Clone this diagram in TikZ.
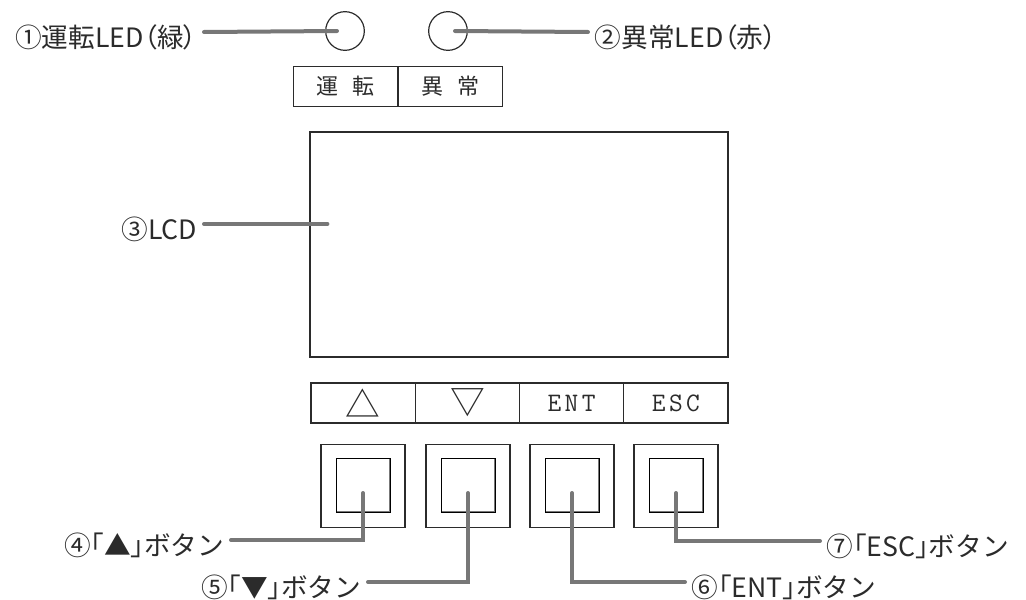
\documentclass[tikz,border=0pt]{standalone}
\usepackage{fontspec}
\newfontfamily\jpfont{Noto Sans CJK JP}
\newfontfamily\jppalt[RawFeature=+palt]{Noto Sans CJK JP}
\definecolor{leadgray}{HTML}{777777}
\definecolor{inkgray}{HTML}{2B2B2B}
\newcommand{\lbr}{{\jppalt 「}}
\newcommand{\rbr}{{\jppalt 」}}
\newcommand{\lpar}{{\jppalt （}}
\newcommand{\rpar}{{\jppalt ）}}
\newcommand{\keyspaced}[3]{#1\kern2.5pt#2\kern2.5pt#3}
\begin{document}
\begin{tikzpicture}[x=0.75pt,y=-0.75pt,
  leader/.style={draw=leadgray,line width=3pt,line cap=round},
  part/.style={draw=inkgray,line width=0.9pt},
  callout/.style={text=inkgray,font=\jpfont\fontsize{20}{24}\selectfont,inner xsep=5pt,inner ysep=2pt},
  ledlamp/.style={part,circle,minimum size=29pt,inner sep=0pt},
  tagcell/.style={part,minimum width=78.5pt,minimum height=30.5pt,inner sep=0pt,text=inkgray,font=\jpfont\fontsize{16.5}{18}\selectfont},
  keycell/.style={part,minimum width=78.2pt,minimum height=30pt,inner sep=0pt,text=inkgray,font=\ttfamily\fontsize{20}{22}\selectfont},
  btnframe/.style={part,minimum width=63pt,minimum height=62.25pt,inner sep=0pt},
  btnface/.style={draw=black,line width=1.2pt,minimum size=40.5pt,inner sep=0pt}]
\useasboundingbox (0,0) rectangle (1026,600);
% LEDs and their tags
\node[ledlamp] (ledrun) at (345,31) {};
\node[ledlamp] (lederr) at (448,31) {};
\node[tagcell] (tagrun) at (345.5,86.5) {運\hspace{0.6em}転};
\node[tagcell] (tagerr) at (450.5,86.5) {異\hspace{0.6em}常};
% LCD
\node[part,minimum width=313.5pt,minimum height=168.75pt] (lcd) at (519,244.5) {};
% key tags
\node[keycell] (keyup)  at (363.1,403) {\jpfont\fontsize{26}{26}\selectfont △};
\node[keycell] (keydn)  at (467.4,403) {\jpfont\fontsize{26}{26}\selectfont ▽};
\node[keycell] (keyent) at (571.6,403) {\keyspaced ENT};
\node[keycell] (keyesc) at (675.9,403) {\keyspaced ESC};
% buttons
\node[btnframe] (btnup)  at (363,486) {};
\node[btnframe] (btndn)  at (468,486) {};
\node[btnframe] (btnent) at (572,486) {};
\node[btnframe] (btnesc) at (676,486) {};
\node[btnface] (faceup)  at (363.5,485.5) {};
\node[btnface] (facedn)  at (468.5,485.5) {};
\node[btnface] (faceent) at (572.5,485.5) {};
\node[btnface] (faceesc) at (676.5,485.5) {};
\foreach \f in {faceup,facedn,faceent,faceesc}
  \draw[leadgray,line width=1pt] ([xshift=-1.4pt,yshift=-0.8pt]\f.north east) |- ([xshift=0.8pt,yshift=1.4pt]\f.south west);
% callouts
\node[callout,anchor=east] (runlbl) at (204,37) {①運転LED\lpar 緑\rpar};
\node[callout,anchor=west] (errlbl) at (588,37) {②異常LED\lpar 赤\rpar};
\node[callout,anchor=east] (lcdlbl) at (204,229) {③LCD};
\node[callout,anchor=east] (uplbl)  at (231,545) {④\lbr▲\rbr ボタン};
\node[callout,anchor=east] (dnlbl)  at (368,587) {⑤\lbr▼\rbr ボタン};
\node[callout,anchor=west] (entlbl) at (685,587) {⑥\lbr ENT\rbr ボタン};
\node[callout,anchor=west] (esclbl) at (820,546) {⑦\lbr ESC\rbr ボタン};
\draw[leader] ([yshift=3.75pt]runlbl.east) -- ([xshift=-6pt]ledrun.center);
\draw[leader] ([yshift=3.75pt]errlbl.west) -- ([xshift=5.25pt]lederr.center);
\draw[leader] ([yshift=3.75pt]lcdlbl.east) coordinate (lcdfrom) -- ([xshift=13.5pt]lcdfrom -| lcd.west);
\draw[leader] ([yshift=-5.25pt]btnup.center) |- ([yshift=3.75pt]uplbl.east);
\draw[leader] ([yshift=-5.25pt]btndn.center) |- ([yshift=3.75pt]dnlbl.east);
\draw[leader] ([yshift=-5.25pt]btnent.center) |- ([yshift=3.75pt]entlbl.west);
\draw[leader] ([yshift=-5.25pt]btnesc.center) |- ([yshift=3.75pt]esclbl.west);
\end{tikzpicture}
\end{document}
